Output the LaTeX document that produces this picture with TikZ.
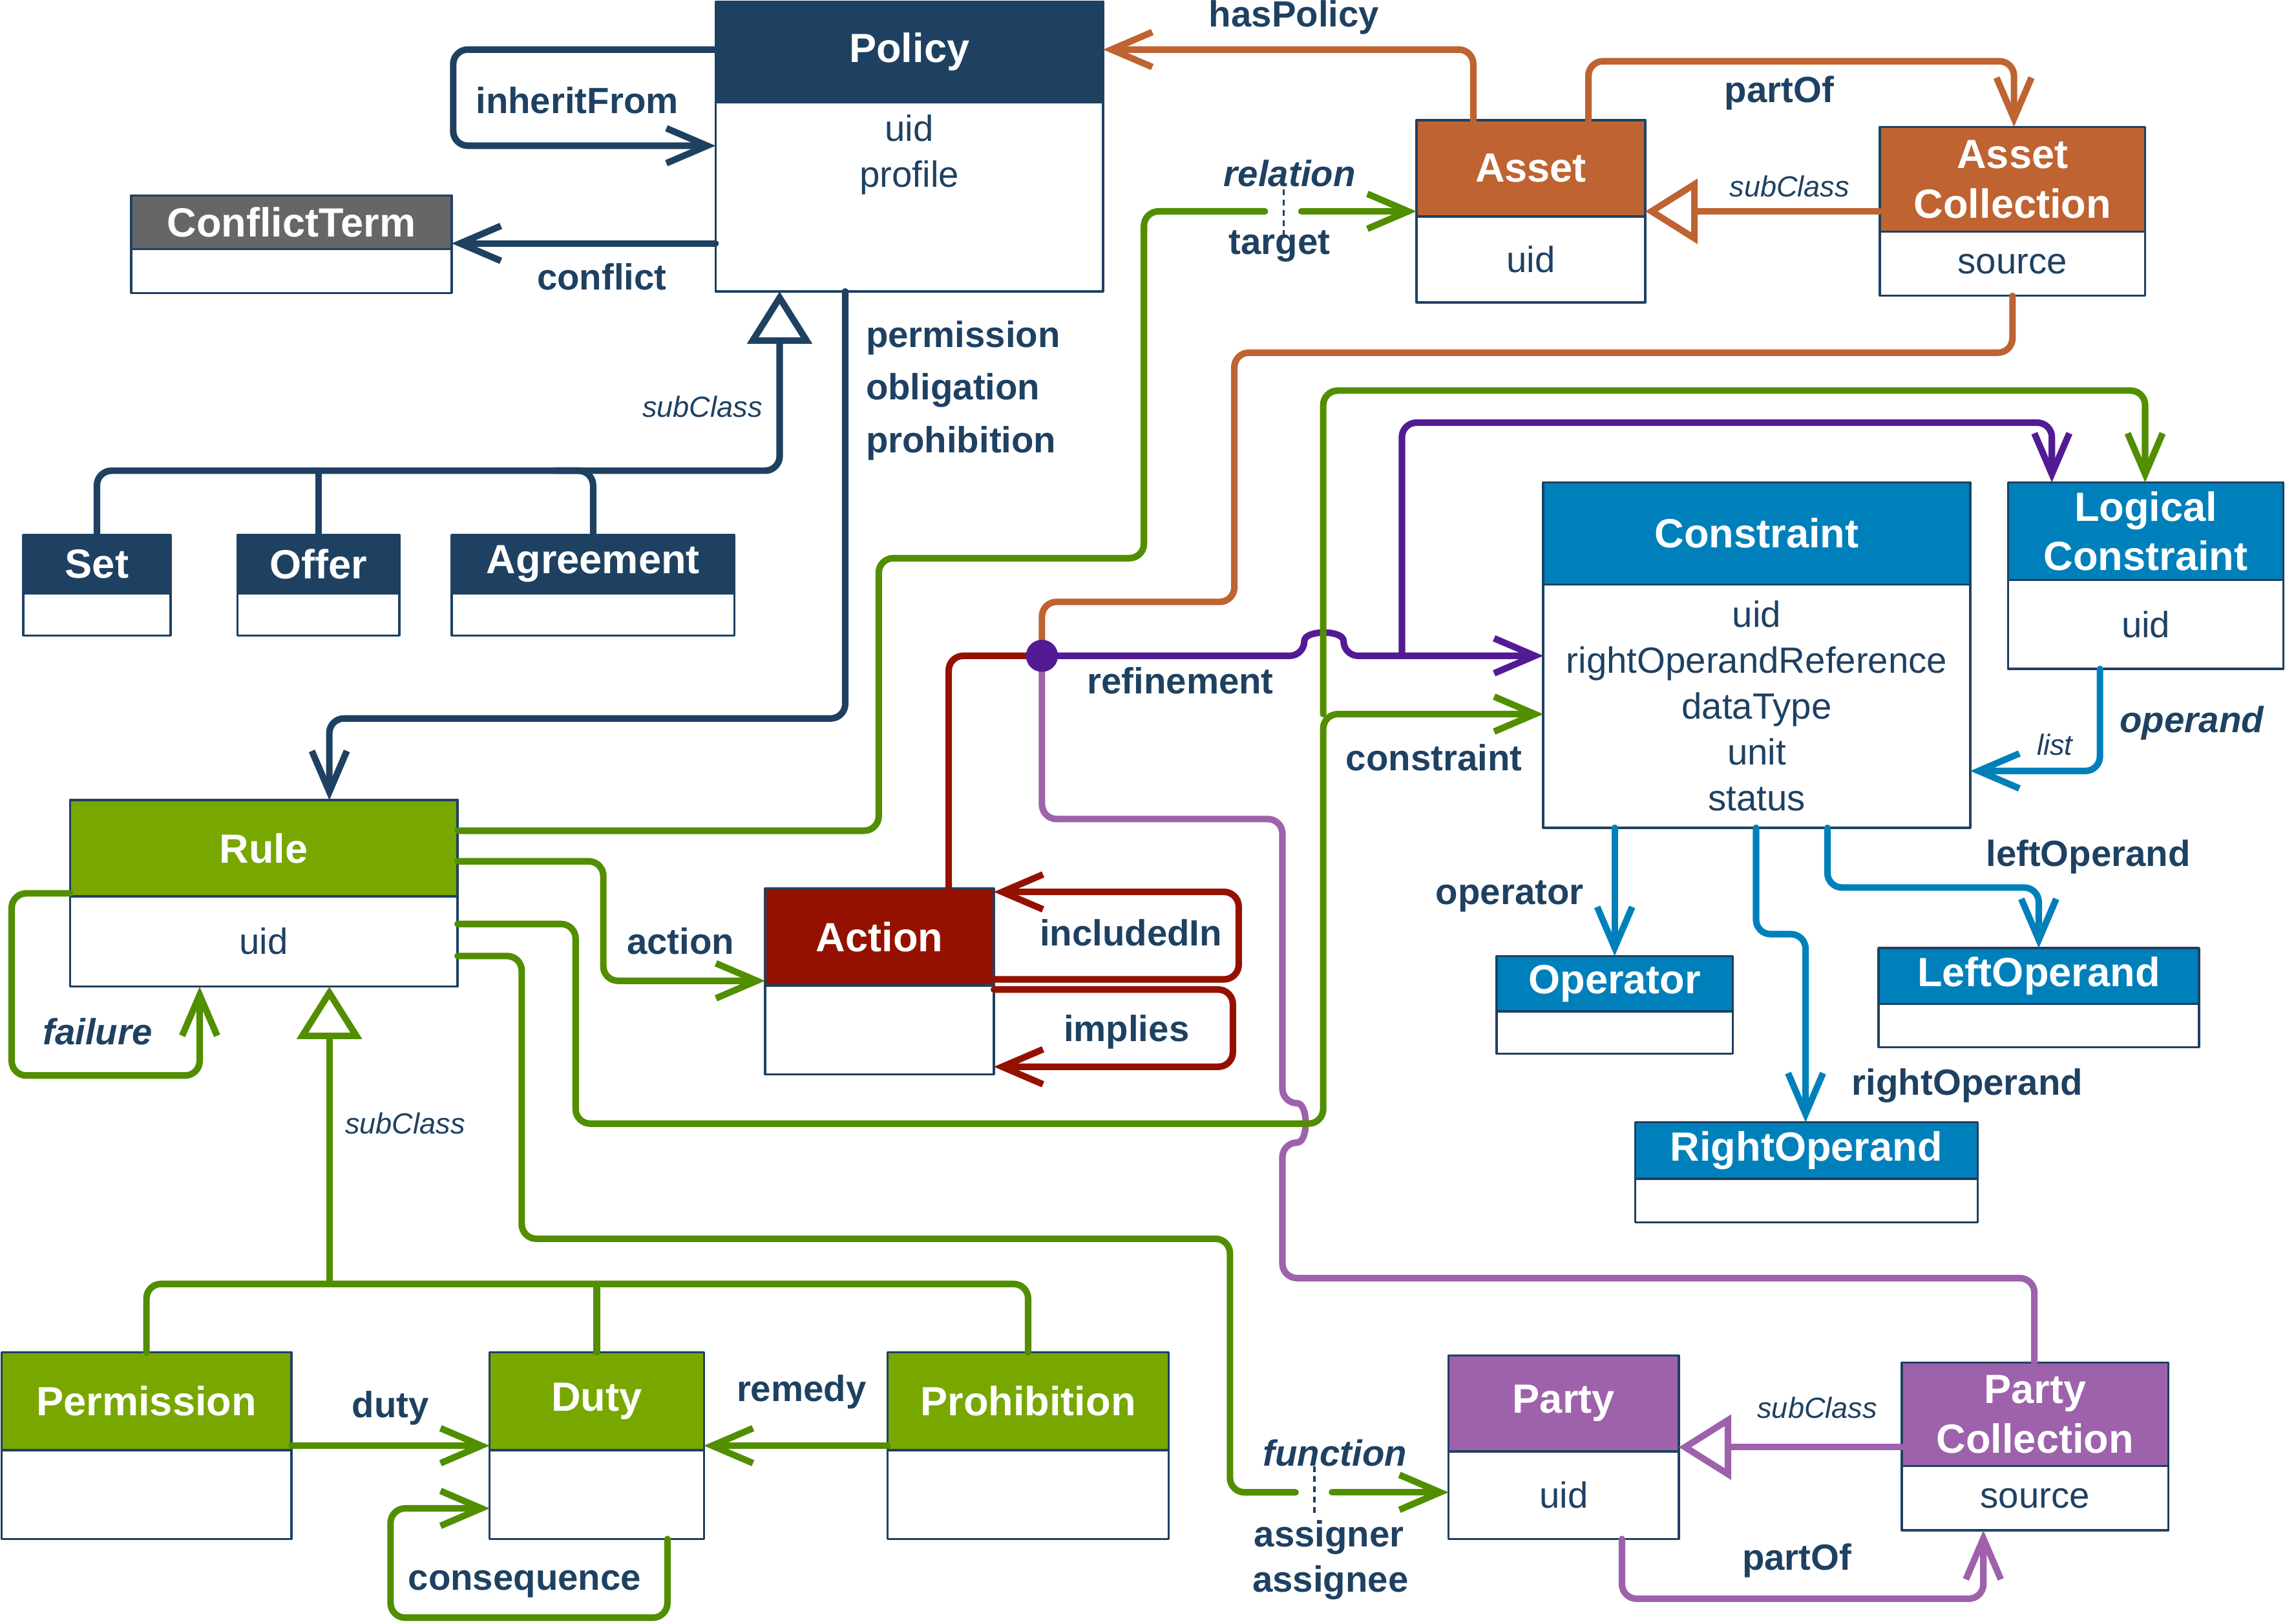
\documentclass[tikz,border=0pt]{standalone}
\usepackage{fontspec}
\setmainfont{Liberation Sans}
\usetikzlibrary{arrows.meta,positioning}

\definecolor{odrlNavy}{RGB}{30,65,98}
\definecolor{odrlOrange}{RGB}{190,99,49}
\definecolor{odrlGreen}{RGB}{120,167,0}
\definecolor{odrlGreenLine}{RGB}{81,142,0}
\definecolor{odrlRed}{RGB}{148,17,0}
\definecolor{odrlRef}{RGB}{83,27,147}
\definecolor{odrlParty}{RGB}{157,98,171}
\definecolor{odrlBlue}{RGB}{0,128,187}
\definecolor{odrlGray}{RGB}{102,102,102}

\newcommand\hdrfont{\fontsize{28}{34}\selectfont\bfseries}
\newcommand\attrfont{\fontsize{25}{31.5}\selectfont}
\newcommand\lblfont{\fontsize{25}{36}\selectfont\bfseries}
\newcommand\lblitfont{\fontsize{25}{30}\selectfont\bfseries\itshape}
\newcommand\subfont{\fontsize{20}{24}\selectfont\itshape}

\begin{document}
\begin{tikzpicture}
    [x=1pt,y=-1pt,line join=round,
     hdr/.style={rectangle,draw=odrlNavy,line width=1.5pt,inner sep=0pt,outer sep=0pt,text=white,font=\hdrfont,align=center},
     bdy/.style={rectangle,draw=odrlNavy,line width=1.5pt,fill=white,inner sep=0pt,outer sep=0pt,text=odrlNavy,font=\attrfont,align=center},
     attr/.style={text=odrlNavy,font=\attrfont,align=center,inner sep=0pt},
     lbl/.style={text=odrlNavy,font=\lblfont,inner sep=1pt},
     lblit/.style={text=odrlNavy,font=\lblitfont,inner sep=1pt},
     sub/.style={text=odrlNavy,font=\subfont,inner sep=1pt},
     conn/.style={line width=4.5pt,rounded corners=10pt,line cap=round},
     barb/.style={-{Straight Barb[length=28pt,width=24pt]}},
     tri/.style={-{Triangle[open,length=36pt,width=44pt]}},
     sep/.style={draw=odrlNavy,line width=1.5pt,dash pattern=on 4pt off 3pt},
     refdot/.style={circle,fill=odrlRef,minimum size=22pt,inner sep=0pt}]

    \useasboundingbox (0,0) rectangle (1568,1114);

    % classes
    \node[hdr,fill=odrlNavy,minimum width=266pt,minimum height=69pt] (policy) at (624,35.5) {Policy};
    \node[bdy,minimum width=266pt,minimum height=130pt,below=0pt of policy] (policyB) {};
    \node[attr] (policyAttr) at (624,106) {uid\\profile};

    \node[hdr,fill=odrlGray,minimum width=220pt,minimum height=37pt] (conflict) at (200,152.5) {ConflictTerm};
    \node[bdy,minimum width=220pt,minimum height=30pt,below=0pt of conflict] (conflictB) {};

    \node[hdr,fill=odrlNavy,minimum width=101pt,minimum height=40pt] (set) at (66.5,387) {Set};
    \node[bdy,minimum width=101pt,minimum height=29pt,below=0pt of set] (setB) {};
    \node[hdr,fill=odrlNavy,minimum width=111pt,minimum height=40pt] (offer) at (218.5,387) {Offer};
    \node[bdy,minimum width=111pt,minimum height=29pt,below=0pt of offer] (offerB) {};
    \node[hdr,fill=odrlNavy,minimum width=194pt,minimum height=40pt] (agreement) at (407,387) {Agreement};
    \node[bdy,minimum width=194pt,minimum height=29pt,below=0pt of agreement] (agreementB) {};

    \node[hdr,fill=odrlOrange,minimum width=157pt,minimum height=66pt] (asset) at (1050.5,115.5) {Asset};
    \node[bdy,minimum width=157pt,minimum height=59pt,below=0pt of asset] (assetB) {uid};
    \node[hdr,fill=odrlOrange,minimum width=182pt,minimum height=72pt] (assetcoll) at (1381,123) {Asset\\Collection};
    \node[bdy,minimum width=182pt,minimum height=44pt,below=0pt of assetcoll] (assetcollB) {source};

    \node[hdr,fill=odrlBlue,minimum width=293pt,minimum height=70pt] (constraint) at (1205.5,366) {Constraint};
    \node[bdy,minimum width=293pt,minimum height=167pt,below=0pt of constraint] (constraintB) {uid\\rightOperandReference\\dataType\\unit\\status};
    \node[hdr,fill=odrlBlue,minimum width=189pt,minimum height=67pt] (logic) at (1472.5,364.5) {Logical\\Constraint};
    \node[bdy,minimum width=189pt,minimum height=61pt,below=0pt of logic] (logicB) {uid};
    \node[hdr,fill=odrlBlue,minimum width=162pt,minimum height=38pt] (operator) at (1108,675) {Operator};
    \node[bdy,minimum width=162pt,minimum height=29pt,below=0pt of operator] (operatorB) {};
    \node[hdr,fill=odrlBlue,minimum width=220pt,minimum height=38.5pt] (leftop) at (1399,669.75) {LeftOperand};
    \node[bdy,minimum width=220pt,minimum height=29.5pt,below=0pt of leftop] (leftopB) {};
    \node[hdr,fill=odrlBlue,minimum width=235pt,minimum height=38.7pt] (rightop) at (1239.5,789.4) {RightOperand};
    \node[bdy,minimum width=235pt,minimum height=30pt,below=0pt of rightop] (rightopB) {};

    \node[hdr,fill=odrlGreen,minimum width=266pt,minimum height=66pt] (rule) at (181,582) {Rule};
    \node[bdy,minimum width=266pt,minimum height=62pt,below=0pt of rule] (ruleB) {uid};
    \node[hdr,fill=odrlRed,minimum width=157pt,minimum height=66.5pt] (action) at (603.5,643) {Action};
    \node[bdy,minimum width=157pt,minimum height=61pt,below=0pt of action] (actionB) {};

    \node[hdr,fill=odrlGreen,minimum width=199pt,minimum height=67pt] (perm) at (100.5,961.5) {Permission};
    \node[bdy,minimum width=199pt,minimum height=61pt,below=0pt of perm] (permB) {};
    \node[hdr,fill=odrlGreen,minimum width=147pt,minimum height=67pt] (duty) at (409.5,961.5) {Duty};
    \node[bdy,minimum width=147pt,minimum height=61pt,below=0pt of duty] (dutyB) {};
    \node[hdr,fill=odrlGreen,minimum width=193pt,minimum height=67pt] (prohib) at (705.5,961.5) {Prohibition};
    \node[bdy,minimum width=193pt,minimum height=61pt,below=0pt of prohib] (prohibB) {};

    \node[hdr,fill=odrlParty,minimum width=158pt,minimum height=66pt] (party) at (1073,963) {Party};
    \node[bdy,minimum width=158pt,minimum height=60pt,below=0pt of party] (partyB) {uid};
    \node[hdr,fill=odrlParty,minimum width=183pt,minimum height=71pt] (partycoll) at (1396.5,970.5) {Party\\Collection};
    \node[bdy,minimum width=183pt,minimum height=44pt,below=0pt of partycoll] (partycollB) {source};

    \coordinate (refpt) at (715,450);
    \coordinate (refJoin) at (962,450);
    \coordinate (cstJoin) at (908,490);
    \coordinate (tgtGapL) at (868,145);
    \coordinate (tgtGapR) at (893,145);
    \coordinate (fnGapL) at (889,1024);
    \coordinate (fnGapR) at (914,1024);

    % policy
    \draw[conn,odrlNavy,barb] (policy.west |- 0,34) -- (311,34) -- (311,100) -- (policyB.west |- 0,100);
    \draw[conn,odrlNavy,barb] (policyB.west |- 0,167) -- (conflict.east |- 0,167);
    \draw[conn,odrlNavy,tri] (set.north) -- (66.5,323) -- (535,323) -- (policyB.south -| 535,0);
    \draw[conn,odrlNavy] (offer.north) -- (218.5,323);
    \draw[conn,odrlNavy] (agreement.north) -- (407,323) -- (380,323);
    \draw[conn,odrlNavy,barb] (policyB.south -| 580,0) -- (580,493) -- (226,493) -- (rule.north -| 226,0);

    % asset
    \draw[conn,odrlOrange,barb] (asset.north -| 1011,0) -- (1011,34) -- (policy.east |- 0,34);
    \draw[conn,odrlOrange,barb] (asset.north -| 1090,0) -- (1090,42) -- (1382,42) -- (assetcoll.north -| 1382,0);
    \draw[conn,odrlOrange,tri] (assetcoll.west |- 0,145) -- (asset.east |- 0,145);
    \draw[conn,odrlGreenLine] (rule.east |- 0,570) -- (603,570) -- (603,383) -- (785,383) -- (785,145) -- (tgtGapL);
    \draw[conn,odrlGreenLine,barb] (tgtGapR) -- (asset.west |- 0,145);
    \draw[sep] (881,130) -- (881,163);

    % refinement
    \draw[conn,odrlOrange] (assetcollB.south -| 1381,0) -- (1381,242) -- (847,242) -- (847,413) -- (715,413) -- (refpt);
    \draw[conn,odrlRed] (action.north -| 651,0) -- (651,450) -- (refpt);
    \draw[conn,odrlParty] (partycoll.north -| 1396,0) -- (1396,877) -- (880,877) -- (880,784)
        .. controls (898,784) and (898,757) .. (880,757) -- (880,562) -- (715,562) -- (refpt);
    \draw[conn,odrlRef,barb] (refpt) -- (895,450) .. controls (895,432) and (922,432) .. (922,450) -- (constraintB.west |- 0,450);
    \draw[conn,odrlRef,barb] (refJoin) -- (962,290) -- (1408,290) -- (logic.north -| 1408,0);

    % rule
    \draw[conn,odrlGreenLine,barb] (ruleB.east |- 0,634) -- (395,634) -- (395,771) -- (908,771) -- (cstJoin) -- (constraintB.west |- 0,490);
    \draw[conn,odrlGreenLine,barb] (cstJoin) -- (908,268) -- (1472,268) -- (logic.north -| 1472,0);
    \draw[conn,odrlGreenLine,barb] (rule.east |- 0,591) -- (414,591) -- (414,673) -- (action.west |- 0,673);
    \draw[conn,odrlGreenLine,barb] (rule.west |- 0,613) -- (8,613) -- (8,738) -- (137,738) -- (ruleB.south -| 137,0);
    \draw[conn,odrlGreenLine] (ruleB.east |- 0,656) -- (358,656) -- (358,850) -- (844,850) -- (844,1024) -- (fnGapL);
    \draw[conn,odrlGreenLine,barb] (fnGapR) -- (partyB.west |- 0,1024);
    \draw[sep] (902,1006) -- (902,1038);
    \draw[conn,odrlGreenLine] (perm.north) -- (100.5,881) -- (705.5,881) -- (prohib.north);
    \draw[conn,odrlGreenLine] (duty.north) -- (409.5,881);
    \draw[conn,odrlGreenLine,tri] (226,881) -- (ruleB.south -| 226,0);

    % duties
    \draw[conn,odrlGreenLine,barb] (perm.east |- 0,992) -- (duty.west |- 0,992);
    \draw[conn,odrlGreenLine,barb] (prohib.west |- 0,992) -- (duty.east |- 0,992);
    \draw[conn,odrlGreenLine,barb] (dutyB.south -| 458,0) -- (458,1110) -- (268,1110) -- (268,1035) -- (dutyB.west |- 0,1035);

    % action
    \draw[conn,odrlRed,barb] (action.east |- 0,672) -- (850,672) -- (850,612) -- (action.east |- 0,612);
    \draw[conn,odrlRed,barb] (actionB.east |- 0,679) -- (846,679) -- (846,732) -- (actionB.east |- 0,732);

    % constraint
    \draw[conn,odrlBlue,barb] (logicB.south -| 1441,0) -- (1441,529) -- (constraintB.east |- 0,529);
    \draw[conn,odrlBlue,barb] (constraintB.south -| 1108,0) -- (operator.north);
    \draw[conn,odrlBlue,barb] (constraintB.south -| 1205,0) -- (1205,641) -- (1239,641) -- (rightop.north -| 1239,0);
    \draw[conn,odrlBlue,barb] (constraintB.south -| 1254,0) -- (1254,609) -- (1399,609) -- (leftop.north);

    % party
    \draw[conn,odrlParty,barb] (partyB.south -| 1113,0) -- (1113,1097) -- (1361,1097) -- (partycollB.south -| 1361,0);
    \draw[conn,odrlParty,tri] (partycoll.west |- 0,993) -- (party.east |- 0,993);

    \node[refdot] (refdotN) at (refpt) {};

    % labels
    \node[lbl] (lInherit) at (396,69) {inheritFrom};
    \node[lbl] (lConflict) at (413,190) {conflict};
    \node[sub] (lSubPolicy) at (482,279) {subClass};
    \node[lbl,align=left,anchor=west] (lRuleKinds) at (593,268) {permission\\obligation\\prohibition};
    \node[lbl] (lHasPolicy) at (888,12) {hasPolicy};
    \node[lbl] (lAssetPart) at (1221,64) {partOf};
    \node[sub] (lSubAsset) at (1228,128) {subClass};
    \node[lblit] (lRelation) at (885,119) {relation};
    \node[lbl] (lTarget) at (878,169) {target};
    \node[lbl] (lRefine) at (810,467) {refinement};
    \node[lbl] (lConstraint) at (984,520) {constraint};
    \node[lbl] (lAction) at (467,646) {action};
    \node[lbl] (lIncluded) at (776,640) {includedIn};
    \node[lbl] (lImplies) at (773,708) {implies};
    \node[lblit] (lFailure) at (67,708) {failure};
    \node[sub] (lSubRule) at (278,771) {subClass};
    \node[lbl] (lDuty) at (268,966) {duty};
    \node[lbl] (lRemedy) at (550,955) {remedy};
    \node[lbl] (lConsequence) at (360,1087) {consequence};
    \node[lblit] (lFunction) at (916,997) {function};
    \node[lbl] (lAssigner) at (912,1055) {assigner};
    \node[lbl] (lAssignee) at (913,1086) {assignee};
    \node[sub] (lSubParty) at (1247,966) {subClass};
    \node[lbl] (lPartyPart) at (1233,1071) {partOf};
    \node[sub] (lList) at (1410,511) {list};
    \node[lblit] (lOperand) at (1504,496) {operand};
    \node[lbl] (lOperator) at (1036,615) {operator};
    \node[lbl] (lLeftOp) at (1433,588) {leftOperand};
    \node[lbl] (lRightOp) at (1350,745) {rightOperand};

  \end{tikzpicture}
\end{document}
